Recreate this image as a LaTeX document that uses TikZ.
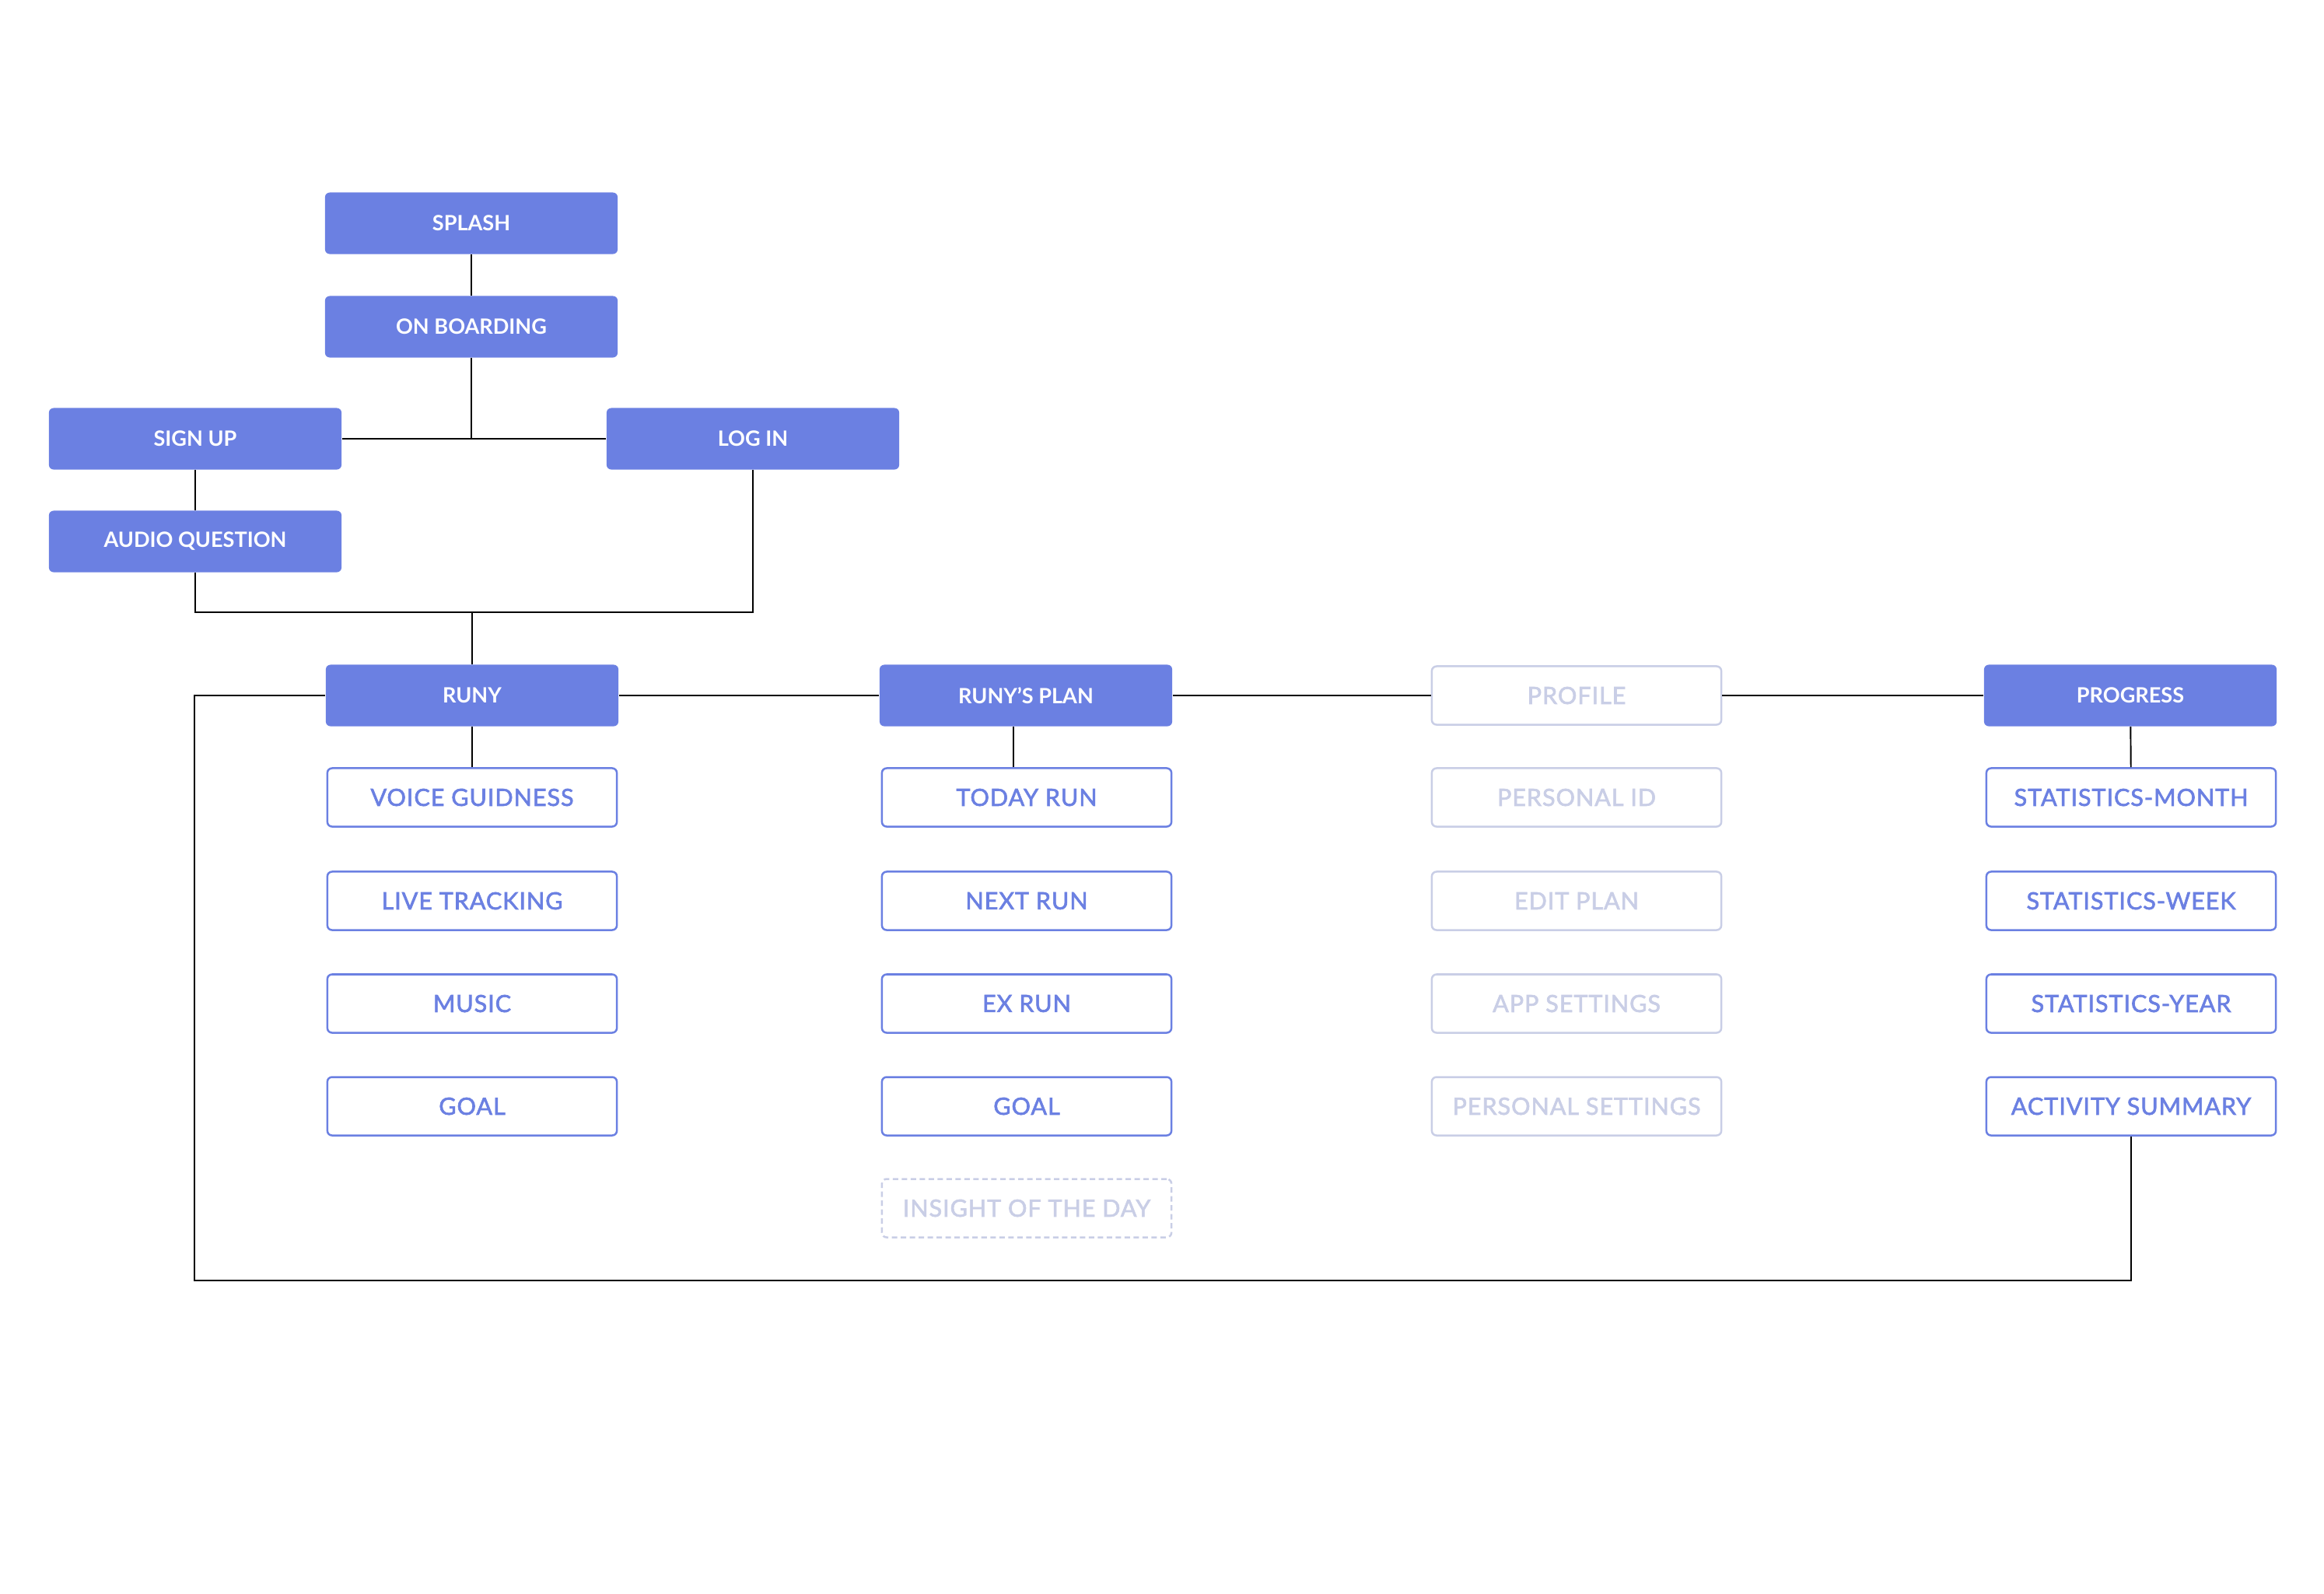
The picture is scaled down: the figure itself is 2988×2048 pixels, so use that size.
\documentclass[tikz,border=0pt]{standalone}
\usepackage{fontspec}
\setmainfont{Lato}
\newfontfamily\subfont{Lato}[LetterSpace=3, FakeBold=2]
\usepackage{xcolor}
\usetikzlibrary{calc}
\definecolor{runyblue}{HTML}{6B80E2}
\definecolor{runygrey}{HTML}{C9CEE6}

\begin{document}
\begin{tikzpicture}[x=0.01cm, y=-0.01cm]
        % ================= 样式定义 =================
        \tikzset{
            % 实心蓝色页面
            main_box/.style={rectangle, rounded corners=0.6mm, fill=runyblue, text=white,
                minimum width=3.76cm, minimum height=0.79cm, inner sep=0pt,
                font=\bfseries\fontsize{7.7}{9}\selectfont},
            % 蓝色描边子页面
            sub_box/.style={rectangle, rounded corners=0.6mm, draw=runyblue, line width=0.25mm,
                fill=white, text=runyblue, minimum width=3.72cm, minimum height=0.75cm, inner sep=0pt,
                font=\subfont\fontsize{8.7}{10}\selectfont},
            % 浅灰色 (未完成) 页面
            grey_box/.style={sub_box, draw=runygrey, text=runygrey},
            % 虚线页面
            dash_box/.style={grey_box, dash pattern=on 0.7mm off 0.45mm},
            % 黑色连线
            link/.style={line width=0.55pt, black}
        }
        \useasboundingbox (0,0) rectangle (2988,2048);

        % ================= 启动与登录 =================
        \node[main_box] (splash) at (606,287) {SPLASH};
        \node[main_box] (onboard) at (606,420) {ON BOARDING};
        \node[main_box] (signup) at (251,564) {SIGN UP};
        \node[main_box] (login) at (968,564) {LOG IN};
        \node[main_box] (audio) at (251,696) {AUDIO QUESTION};
        \coordinate (join) at (607,787);

        \draw[link] (splash) -- (onboard);
        \draw[link] (onboard.south) -- (onboard.south |- signup.east);
        \draw[link] (signup.east) -- (login.west);
        \draw[link] (signup) -- (audio);
        \draw[link] (audio.south) |- (join) -| (login.south);

        % ================= 主导航 =================
        \node[main_box] (runy) at (607,894) {RUNY};
        \node[main_box] (plan) at (1319,894) {RUNY’S PLAN};
        \node[grey_box] (profile) at (2027,894) {PROFILE};
        \node[main_box] (progress) at (2739,894) {PROGRESS};

        \draw[link] (join) -- (runy.north);
        \draw[link] (runy.east) -- (plan.west);
        \draw[link] (plan.east) -- (profile.west);
        \draw[link] (profile.east) -- (progress.west);

        % ================= RUNY 列 =================
        \node[sub_box] (voice) at (607,1025) {VOICE GUIDNESS};
        \node[sub_box] (live) at (607,1158) {LIVE TRACKING};
        \node[sub_box] (music) at (607,1290) {MUSIC};
        \node[sub_box] (goala) at (607,1422) {GOAL};
        \draw[link] (runy) -- (voice);

        % ================= RUNY'S PLAN 列 =================
        \node[sub_box] (today) at (1320,1025) {TODAY RUN};
        \node[sub_box] (next) at (1320,1158) {NEXT RUN};
        \node[sub_box] (exrun) at (1320,1290) {EX RUN};
        \node[sub_box] (goalb) at (1320,1422) {GOAL};
        \node[dash_box] (insight) at (1320,1553) {INSIGHT OF THE DAY};
        \draw[link] ([xshift=-1.6mm]plan.south) -- ([xshift=-1.6mm]plan.south |- today.north);

        % ================= PROFILE 列 =================
        \node[grey_box] (persid) at (2027,1025) {PERSONAL ID};
        \node[grey_box] (edit) at (2027,1158) {EDIT PLAN};
        \node[grey_box] (appset) at (2027,1290) {APP SETTINGS};
        \node[grey_box] (persset) at (2027,1422) {PERSONAL SETTINGS};

        % ================= PROGRESS 列 =================
        \node[sub_box] (statm) at (2740,1025) {STATISTICS-MONTH};
        \node[sub_box] (statw) at (2740,1158) {STATISTICS-WEEK};
        \node[sub_box] (staty) at (2740,1290) {STATISTICS-YEAR};
        \node[sub_box] (activity) at (2740,1422) {ACTIVITY SUMMARY};
        \draw[link] (progress) -- (statm);

        % 回到 RUNY 的外环
        \coordinate (loop) at (250,1646);
        \draw[link] (runy.west) -| (loop) -| (activity.south);

    \end{tikzpicture}
\end{document}
